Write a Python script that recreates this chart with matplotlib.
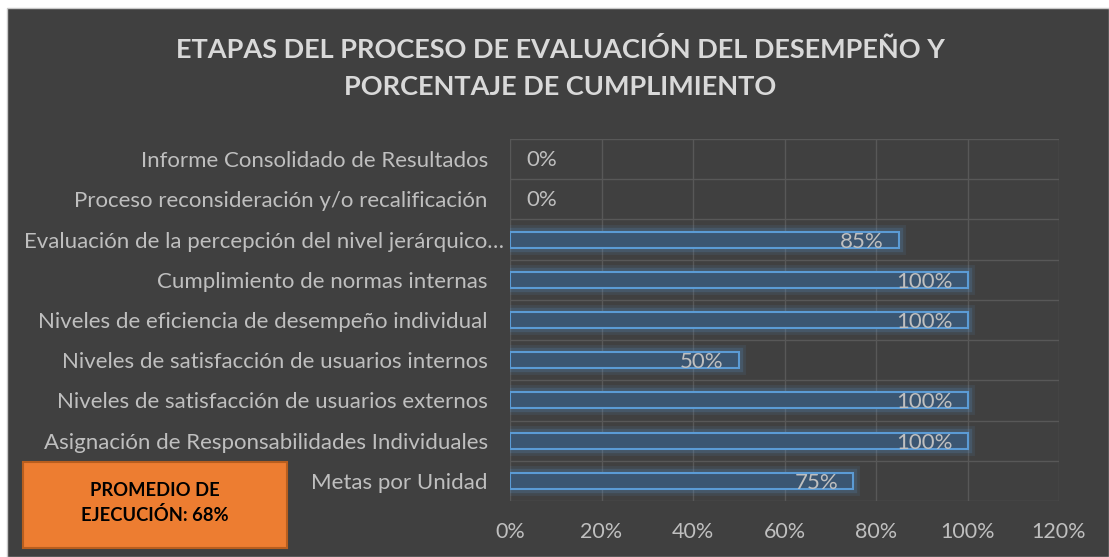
import matplotlib
matplotlib.use("Agg")
import matplotlib.pyplot as plt
import matplotlib.patheffects as pe
from matplotlib.patches import Rectangle
from matplotlib.transforms import ScaledTranslation

categories = [
    "Metas por Unidad",
    "Asignación de Responsabilidades Individuales",
    "Niveles de satisfacción de usuarios externos",
    "Niveles de satisfacción de usuarios internos",
    "Niveles de eficiencia de desempeño individual",
    "Cumplimiento de normas internas",
    "Evaluación de la percepción del nivel jerárquico…",
    "Proceso reconsideración y/o recalificación",
    "Informe Consolidado de Resultados",
]
values = [75, 100, 100, 50, 100, 100, 85, 0, 0]
xticks = [0, 20, 40, 60, 80, 100, 120]
xtick_labels = ["0%", "20%", "40%", "60%", "80%", "100%", "120%"]
title = "ETAPAS DEL PROCESO DE EVALUACIÓN DEL DESEMPEÑO Y\nPORCENTAJE DE CUMPLIMIENTO"
box_text = "PROMEDIO DE\nEJECUCIÓN: 68%"

W, H = 1109, 557
FONT = "Lato"
BG = "#404040"
TXT = "#bfbfbf"
FS = 16

fig = plt.figure(figsize=(W / 100, H / 100), dpi=100, facecolor="white")
fig.patches.append(Rectangle((7 / W, 0), 1 - 7 / W, (H - 8) / H, transform=fig.transFigure,
                             facecolor=BG, edgecolor="#c8c8c8", linewidth=1, zorder=-5))

ax = fig.add_axes([510 / W, (H - 501) / H, (1059 - 510) / W, (501 - 139) / H], zorder=1)
ax.set_facecolor("none")
ax.set_xlim(0, 120)
ax.set_ylim(-0.5, len(categories) - 0.5)

for xv in xticks:
    ax.axvline(xv, color="#585858", linewidth=1, zorder=1)
for i in range(len(categories) + 1):
    ax.axhline(i - 0.5, color="#585858", linewidth=1, zorder=1)

ypos = list(range(len(categories)))
bars = ax.barh(ypos, values, height=0.4, color="#3b5672", edgecolor="#5b9bd5", linewidth=1.5, zorder=3)
for b, v in zip(bars, values):
    if v == 0:
        b.set_visible(False)
        continue
    b.set_path_effects([
        pe.Stroke(linewidth=10, foreground="#5b9bd5", alpha=0.1),
        pe.Stroke(linewidth=6, foreground="#5b9bd5", alpha=0.18),
        pe.Normal(),
    ])

for y, v in zip(ypos, values):
    if v == 0:
        ax.annotate(f"{v}%", (v, y), xytext=(16, -1), textcoords="offset pixels",
                    ha="left", va="center", color=TXT, fontsize=FS, family=FONT, zorder=5)
    else:
        ax.annotate(f"{v}%", (v, y), xytext=(-15, -2), textcoords="offset pixels",
                    ha="right", va="center", color=TXT, fontsize=FS, family=FONT, zorder=5)

ax.set_yticks(ypos)
ax.set_yticklabels(categories, fontsize=FS, family=FONT, color=TXT)
ax.set_xticks(xticks)
ax.set_xticklabels(xtick_labels, fontsize=15.5, family=FONT, color=TXT)
ax.tick_params(axis="both", length=0)
ax.tick_params(axis="y", pad=16)
ax.tick_params(axis="x", pad=15)
for s in ax.spines.values():
    s.set_visible(False)

# the truncated label in the reference overhangs to the right
for lbl in ax.get_yticklabels():
    if lbl.get_text().endswith("…"):
        lbl.set_transform(lbl.get_transform() + ScaledTranslation(16 / 100, 0, fig.dpi_scale_trans))

fig.text(560 / W, 1 - 68 / H, title, ha="center", va="center", fontsize=19.5, fontweight="bold",
         family=FONT, color="#d9d9d9", linespacing=1.65)

fig.patches.append(Rectangle((23 / W, (H - 548) / H), 264 / W, 86 / H, transform=fig.transFigure,
                             facecolor="#ed7d31", edgecolor="#b85e1e", linewidth=1.5, zorder=5))
fig.text(155 / W, 1 - 503 / H, box_text, ha="center", va="center", fontsize=13.2, fontweight="bold",
         family=FONT, color="black", linespacing=1.5, zorder=6)

fig.savefig("out.png", dpi=100, facecolor="white")
